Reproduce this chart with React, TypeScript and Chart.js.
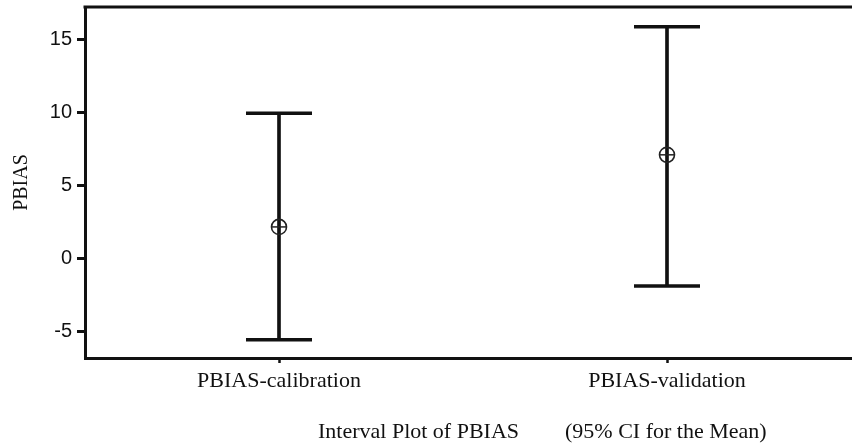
import React, { useEffect, useRef } from "react";
import { Chart, registerables } from "chart.js";

Chart.register(...registerables);

const categories = ["PBIAS-calibration", "PBIAS-validation"];
const means = [2.15, 7.1];
const lowerCI = [-5.6, -1.9];
const upperCI = [9.95, 15.9];
const yTicks = [-5, 0, 5, 10, 15];
const yMin = -6.85;
const yMax = 17.25;
const yTitle = "PBIAS";
const captionLeft = "Interval Plot of PBIAS";
const captionRight = "(95% CI for the Mean)";

const INK = "#111111";

const framePlugin = {
  id: "frame",
  afterDraw(chart: any) {
    const { ctx, chartArea } = chart;
    ctx.save();
    ctx.strokeStyle = INK;
    ctx.lineWidth = 3;
    ctx.beginPath();
    ctx.moveTo(chartArea.left - 1.5, chartArea.top);
    ctx.lineTo(chartArea.right, chartArea.top);
    ctx.lineTo(chartArea.right, chartArea.bottom);
    ctx.stroke();
    ctx.fillStyle = INK;
    ctx.font = "22px 'Liberation Serif', 'Times New Roman', serif";
    ctx.textBaseline = "alphabetic";
    ctx.textAlign = "left";
    ctx.fillText(captionLeft, 318, 438);
    ctx.fillText(captionRight, 565, 438);
    ctx.restore();
  },
};

export default function App() {
  const canvasRef = useRef<HTMLCanvasElement | null>(null);

  useEffect(() => {
    const canvas = canvasRef.current;
    if (!canvas) return;
    const chart = new Chart(canvas, {
      type: "bar",
      data: {
        labels: categories,
        datasets: [
          {
            type: "bar",
            data: lowerCI.map((l, i) => [l, upperCI[i]]) as any,
            backgroundColor: INK,
            borderWidth: 0,
            barThickness: 3,
            order: 5,
          },
          {
            type: "line",
            data: upperCI,
            showLine: false,
            pointStyle: "line",
            pointRadius: 33,
            pointBorderWidth: 3.5,
            pointBorderColor: INK,
            clip: false,
            order: 1,
          } as any,
          {
            type: "line",
            data: lowerCI,
            showLine: false,
            pointStyle: "line",
            pointRadius: 33,
            pointBorderWidth: 3.5,
            pointBorderColor: INK,
            clip: false,
            order: 1,
          } as any,
          {
            type: "line",
            data: means,
            showLine: false,
            pointStyle: "circle",
            pointRadius: 7.5,
            pointBorderWidth: 1.6,
            pointBorderColor: "#222",
            pointBackgroundColor: "rgba(0,0,0,0)",
            order: 0,
          } as any,
          {
            type: "line",
            data: means,
            showLine: false,
            pointStyle: "line",
            pointRadius: 7.5,
            pointBorderWidth: 1.5,
            pointBorderColor: "#222",
            order: 0,
          } as any,
        ],
      },
      options: {
        responsive: false,
        animation: false,
        events: [],
        layout: { autoPadding: false, padding: { top: 7, right: 19, left: 0, bottom: 0 } },
        plugins: {
          legend: { display: false },
          tooltip: { enabled: false },
          title: { display: false },
        },
        scales: {
          x: {
            type: "category",
            offset: true,
            grid: {
              display: true,
              drawOnChartArea: false,
              drawTicks: true,
              tickLength: 5,
              tickWidth: 2.5,
              tickColor: INK,
              offset: false,
            },
            border: { display: true, color: INK, width: 3 },
            ticks: {
              color: INK,
              padding: 5,
              maxRotation: 0,
              font: { family: "'Liberation Serif', 'Times New Roman', serif", size: 22 },
            },
            afterFit(scale: any) {
              scale.height = 88;
              scale.paddingLeft = 0;
              scale.paddingRight = 0;
            },
          },
          y: {
            type: "linear",
            min: yMin,
            max: yMax,
            afterBuildTicks(scale: any) {
              scale.ticks = yTicks.map((v) => ({ value: v }));
            },
            grid: {
              display: true,
              drawOnChartArea: false,
              drawTicks: true,
              tickLength: 8,
              tickWidth: 3,
              tickColor: INK,
            },
            border: { display: true, color: INK, width: 3 },
            ticks: {
              color: INK,
              padding: 5,
              font: { family: "'Liberation Sans', Arial, sans-serif", size: 20 },
            },
            title: {
              display: true,
              text: yTitle,
              color: INK,
              padding: { top: 10, bottom: 0 },
              font: { family: "'Liberation Serif', 'Times New Roman', serif", size: 20 },
            },
            afterFit(scale: any) {
              scale.width = 85;
              scale.paddingTop = 0;
              scale.paddingBottom = 0;
            },
          },
        },
      },
      plugins: [framePlugin],
    });
    return () => chart.destroy();
  }, []);

  return (
    <div
      style={{
        position: "fixed",
        left: 0,
        top: 0,
        width: 852,
        height: 446,
        overflow: "hidden",
        background: "#fff",
      }}
    >
      <canvas ref={canvasRef} width={880} height={446} style={{ display: "block" }} />
    </div>
  );
}
